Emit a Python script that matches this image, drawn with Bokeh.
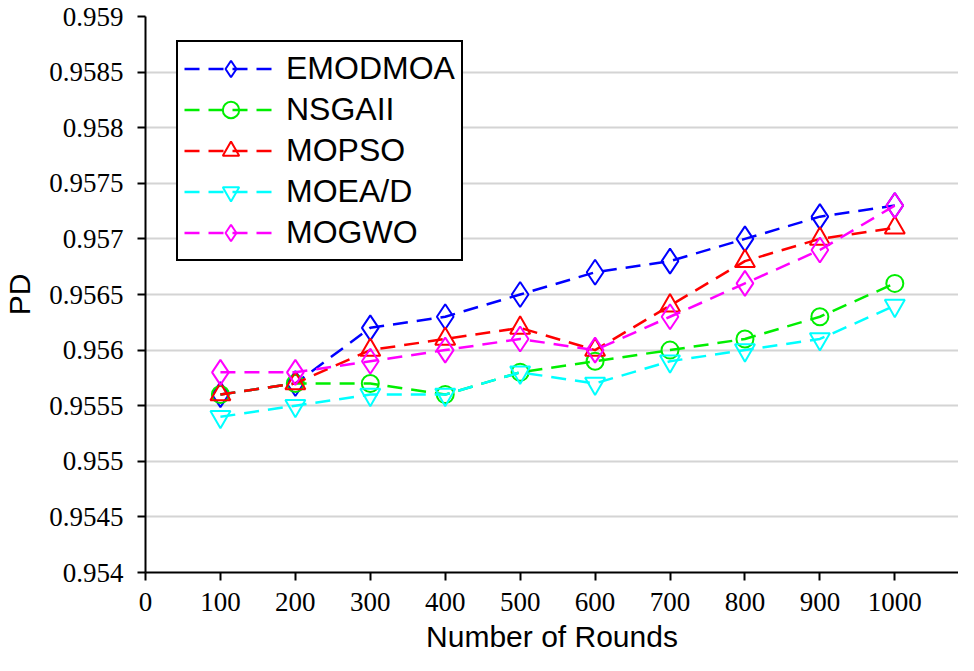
from bokeh.plotting import figure
from bokeh.models import FixedTicker, Range1d
from bokeh.embed import file_html
from bokeh.resources import INLINE

rounds = [100, 200, 300, 400, 500, 600, 700, 800, 900, 1000]
emodmoa = [0.9556, 0.9557, 0.9562, 0.9563, 0.9565, 0.9567, 0.9568, 0.9570, 0.9572, 0.9573]
nsgaii = [0.9556, 0.9557, 0.9557, 0.9556, 0.9558, 0.9559, 0.9560, 0.9561, 0.9563, 0.9566]
mopso = [0.9556, 0.9557, 0.9560, 0.9561, 0.9562, 0.9560, 0.9564, 0.9568, 0.9570, 0.9571]
moead = [0.9554, 0.9555, 0.9556, 0.9556, 0.9558, 0.9557, 0.9559, 0.9560, 0.9561, 0.9564]
mogwo = [0.9558, 0.9558, 0.9559, 0.9560, 0.9561, 0.9560, 0.9563, 0.9566, 0.9569, 0.9573]

y_ticks = [0.954, 0.9545, 0.955, 0.9555, 0.956, 0.9565, 0.957, 0.9575, 0.958, 0.9585, 0.959]
y_tick_labels = ["0.954", "0.9545", "0.955", "0.9555", "0.956", "0.9565", "0.957", "0.9575", "0.958", "0.9585", "0.959"]
x_ticks = [0, 100, 200, 300, 400, 500, 600, 700, 800, 900, 1000]

# name, values, colour, marker, size
series = [
    ("EMODMOA", emodmoa, "#0000ff", "diamond", 25),
    ("NSGAII", nsgaii, "#00ee00", "circle", 17),
    ("MOPSO", mopso, "#ff0000", "triangle", 20),
    ("MOEA/D", moead, "#00ffff", "inverted_triangle", 20),
    ("MOGWO", mogwo, "#ff00ff", "diamond", 25),
]

p = figure(width=958, height=655, output_backend="svg", toolbar_location=None,
           x_range=Range1d(0, 1085), y_range=Range1d(0.954, 0.959),
           min_border_left=137, min_border_right=0, min_border_top=16, min_border_bottom=80)
p.outline_line_color = None
p.background_fill_color = "white"
p.border_fill_color = "white"

for name, vals, color, marker, sz in series:
    p.line(rounds, vals, line_color=color, line_width=2.5, line_dash="15 9", legend_label=name)
    p.scatter(rounds, vals, marker=marker, size=sz, line_color=color, line_width=2,
              fill_color=None, legend_label=name)

p.xgrid.grid_line_color = None
p.ygrid.grid_line_color = "#d4d4d4"
p.ygrid.grid_line_width = 2

p.xaxis.ticker = FixedTicker(ticks=x_ticks)
p.yaxis.ticker = FixedTicker(ticks=y_ticks)
p.yaxis.major_label_overrides = {t: l for t, l in zip(y_ticks, y_tick_labels)}

for ax in (p.xaxis, p.yaxis):
    ax.axis_line_color = "black"
    ax.axis_line_width = 2
    ax.major_tick_line_color = "black"
    ax.major_tick_line_width = 2
    ax.major_tick_out = 8
    ax.major_tick_in = 0
    ax.minor_tick_line_color = None
    ax.major_label_text_font = "Times"
    ax.major_label_text_font_size = "27px"
    ax.major_label_text_color = "black"
    ax.axis_label_text_font = "Arial"
    ax.axis_label_text_font_size = "30px"
    ax.axis_label_text_font_style = "normal"
    ax.axis_label_text_color = "black"

p.xaxis.axis_label = "Number of Rounds"
p.yaxis.axis_label = "PD"
p.xaxis.major_label_standoff = 12
p.xaxis.axis_label_standoff = 6
p.yaxis.major_label_standoff = 14
p.yaxis.axis_label_standoff = 10

lg = p.legend[0]
lg.location = (31, 311)
lg.border_line_color = "black"
lg.border_line_width = 2
lg.border_line_alpha = 1.0
lg.background_fill_alpha = 1.0
lg.label_text_font = "Arial"
lg.label_text_font_size = "32px"
lg.label_text_color = "black"
lg.glyph_width = 93
lg.glyph_height = 41
lg.label_standoff = 9
lg.padding = 6
lg.spacing = 0
lg.margin = 0

open("out.html", "w").write(file_html(p, INLINE))
